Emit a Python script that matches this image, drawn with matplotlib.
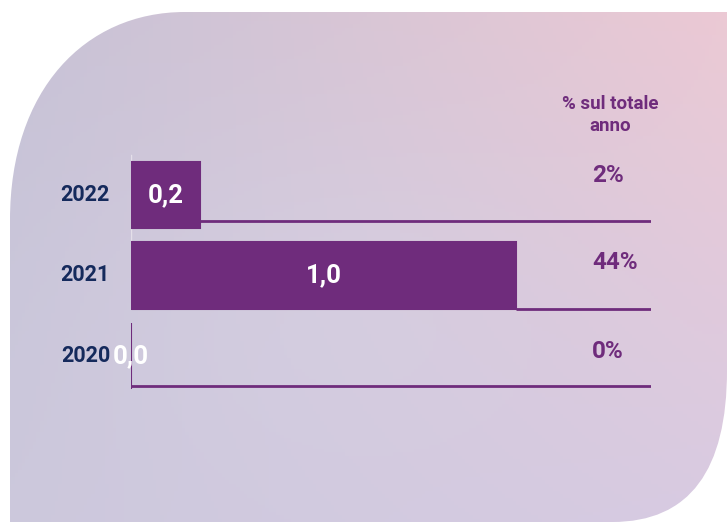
import numpy as np
import matplotlib
matplotlib.use("Agg")
import matplotlib.pyplot as plt
from matplotlib.path import Path
from matplotlib.patches import PathPatch
from matplotlib.colors import to_rgb

# ---- data ----
years = ["2020", "2021", "2022"]
values = [0.0, 1.0, 0.18]
pct_labels = ["0%", "44%", "2%"]
header = "% sul totale\nanno"

# ---- style ----
W, H = 727, 522
PURPLE = "#6f2c7c"
NAVY = "#152a5c"
plt.rcParams["font.family"] = ["Roboto", "DejaVu Sans"]

fig = plt.figure(figsize=(W / 100, H / 100), dpi=100)
fig.patch.set_facecolor("white")

# background card with gradient
bg = fig.add_axes([0, 0, 1, 1])
bg.set_xlim(0, W)
bg.set_ylim(H, 0)
bg.axis("off")
tl, tr = np.array(to_rgb("#c6c2d6")), np.array(to_rgb("#ecc9d4"))
bl, br = np.array(to_rgb("#ccc8dc")), np.array(to_rgb("#d8cae2"))
gx = np.linspace(0, 1, 200)[None, :, None]
gy = np.linspace(0, 1, 150)[:, None, None]
grad = (1 - gy) * ((1 - gx) * tl + gx * tr) + gy * ((1 - gx) * bl + gx * br)
cx, cy = np.meshgrid(np.linspace(0, 1, 200), np.linspace(0, 1, 150))
haze = np.exp(-(((cx - 0.45) / 0.35) ** 2 + ((cy - 0.6) / 0.35) ** 2))[:, :, None]
grad = grad * (1 - 0.25 * haze) + np.array(to_rgb("#d6dbec")) * 0.25 * haze
im = bg.imshow(grad, extent=(0, W, H, 0), aspect="auto", zorder=0)
verts = [(10, 522), (10, 220), (10, 90), (85, 12), (185, 12), (727, 12),
         (727, 370), (727, 470), (690, 522), (612, 522), (10, 522)]
codes = [Path.MOVETO, Path.LINETO, Path.CURVE4, Path.CURVE4, Path.CURVE4,
         Path.LINETO, Path.LINETO, Path.CURVE4, Path.CURVE4, Path.CURVE4, Path.CLOSEPOLY]
card = PathPatch(Path(verts, codes), facecolor="none", edgecolor="none", transform=bg.transData)
bg.add_patch(card)
im.set_clip_path(card)

# main axes: x=0 at px 131, x=1 at px 516; rows spaced ~80.5 px
x0_px, unit_px = 131, 385
row_px = 80.5
center_2020_px = 356
ax_left, ax_right, ax_top, ax_bot = 131, 651, 120, 410
ax = fig.add_axes([ax_left / W, 1 - ax_bot / H, (ax_right - ax_left) / W, (ax_bot - ax_top) / H])
ax.patch.set_alpha(0)
ax.set_xlim(0, (ax_right - x0_px) / unit_px)
ax.set_ylim(-(ax_bot - center_2020_px) / row_px, (center_2020_px - ax_top) / row_px)
ax.axis("off")

ypos = np.arange(len(years))
ax.barh(ypos, values, height=0.82, color=PURPLE, edgecolor=PURPLE, linewidth=1.5, zorder=3)

# faint axis line
ax.plot([0, 0], [ypos[1] - 0.42, ypos[2] + 0.5], color="#e4dfe9", lw=1, zorder=2)

xmax = ax.get_xlim()[1]
line_off = [0.37, 0.41, 0.32]
pct_off = [0.05, 0.16, 0.24]
for i, (yr, v, p) in enumerate(zip(years, values, pct_labels)):
    ax.hlines(ypos[i] - line_off[i], v, xmax, color=PURPLE, lw=2, zorder=2)
    ax.text(-21 / unit_px, ypos[i], yr, ha="right", va="center", fontsize=15.5,
            fontweight="bold", color=NAVY, clip_on=False)
    ax.text(v / 2, ypos[i], f"{v:.1f}".replace(".", ","), ha="center", va="center",
            fontsize=18.5, fontweight="bold", color="white", zorder=4)
    ax.text((592 - x0_px) / unit_px, ypos[i] + pct_off[i], p, ha="left", va="center",
            fontsize=17.5, fontweight="bold", color=PURPLE)

ax.text((610 - x0_px) / unit_px, (center_2020_px - 115) / row_px, header, ha="center",
        va="center", fontsize=13.5, fontweight="bold", color=PURPLE, linespacing=1.35,
        clip_on=False)

fig.savefig("out.png", dpi=100)
